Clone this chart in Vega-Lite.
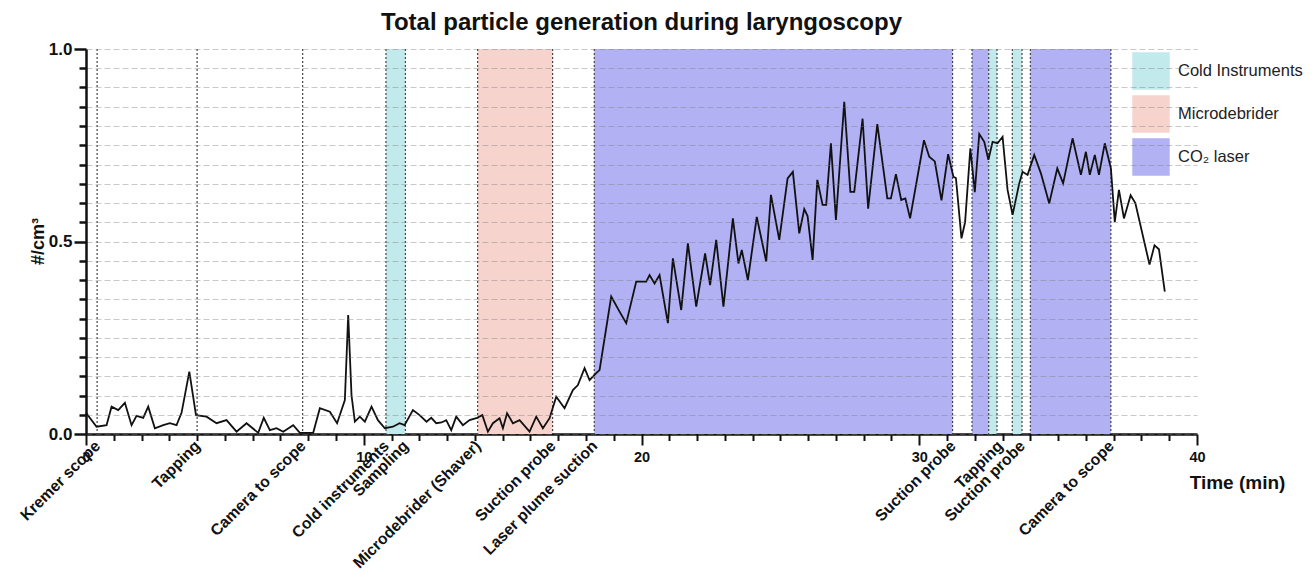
{
  "$schema": "https://vega.github.io/schema/vega-lite/v6.json",
  "width": 1111,
  "height": 385,
  "autosize": {"type": "none"},
  "padding": {"left": 86, "top": 49, "right": 119, "bottom": 139},
  "background": "white",
  "title": {"text": "Total particle generation during laryngoscopy", "font": "Liberation Sans", "fontSize": 24, "fontWeight": "bold", "color": "#111", "anchor": "middle", "frame": "group", "offset": 5},
  "config": {"view": {"stroke": null}, "font": "Liberation Sans"},
  "datasets": {
    "bands": [
      {"start": 10.8, "end": 11.5, "type": "Cold Instruments"},
      {"start": 14.1, "end": 16.8, "type": "Microdebrider"},
      {"start": 18.3, "end": 31.2, "type": "CO₂ laser"},
      {"start": 31.9, "end": 32.5, "type": "CO₂ laser"},
      {"start": 32.5, "end": 32.8, "type": "Cold Instruments"},
      {"start": 33.35, "end": 33.7, "type": "Cold Instruments"},
      {"start": 34.0, "end": 36.9, "type": "CO₂ laser"}
    ],
    "lines": [
      {"t": 0.4}, {"t": 4.0}, {"t": 7.8}, {"t": 10.8}, {"t": 11.5}, {"t": 14.1}, {"t": 16.8}, {"t": 18.3},
      {"t": 31.2}, {"t": 31.9}, {"t": 32.5}, {"t": 32.8}, {"t": 33.35}, {"t": 33.7}, {"t": 34.0}, {"t": 36.9}
    ],
    "series": [
      {"t": 0.00, "v": 0.055}, {"t": 0.38, "v": 0.019}, {"t": 0.74, "v": 0.023}, {"t": 0.92, "v": 0.071},
      {"t": 1.16, "v": 0.062}, {"t": 1.40, "v": 0.081}, {"t": 1.64, "v": 0.023}, {"t": 1.82, "v": 0.047},
      {"t": 2.06, "v": 0.042}, {"t": 2.24, "v": 0.071}, {"t": 2.48, "v": 0.015}, {"t": 2.78, "v": 0.023},
      {"t": 3.02, "v": 0.028}, {"t": 3.26, "v": 0.023}, {"t": 3.44, "v": 0.055}, {"t": 3.72, "v": 0.162},
      {"t": 3.96, "v": 0.049}, {"t": 4.34, "v": 0.045}, {"t": 4.70, "v": 0.028}, {"t": 5.06, "v": 0.036},
      {"t": 5.42, "v": 0.006}, {"t": 5.78, "v": 0.028}, {"t": 6.20, "v": 0.003}, {"t": 6.40, "v": 0.042},
      {"t": 6.62, "v": 0.010}, {"t": 6.86, "v": 0.015}, {"t": 7.10, "v": 0.006}, {"t": 7.46, "v": 0.023},
      {"t": 7.70, "v": 0.003}, {"t": 8.18, "v": 0.003}, {"t": 8.42, "v": 0.067}, {"t": 8.78, "v": 0.058},
      {"t": 9.04, "v": 0.028}, {"t": 9.32, "v": 0.088}, {"t": 9.44, "v": 0.309}, {"t": 9.56, "v": 0.100},
      {"t": 9.68, "v": 0.032}, {"t": 9.86, "v": 0.045}, {"t": 10.04, "v": 0.032}, {"t": 10.28, "v": 0.071},
      {"t": 10.51, "v": 0.036}, {"t": 10.76, "v": 0.015}, {"t": 11.05, "v": 0.019}, {"t": 11.29, "v": 0.028},
      {"t": 11.47, "v": 0.023}, {"t": 11.77, "v": 0.062}, {"t": 12.01, "v": 0.049}, {"t": 12.26, "v": 0.032},
      {"t": 12.43, "v": 0.042}, {"t": 12.61, "v": 0.028}, {"t": 12.80, "v": 0.030}, {"t": 12.97, "v": 0.036},
      {"t": 13.15, "v": 0.010}, {"t": 13.33, "v": 0.045}, {"t": 13.57, "v": 0.023}, {"t": 13.81, "v": 0.036},
      {"t": 14.05, "v": 0.041}, {"t": 14.27, "v": 0.049}, {"t": 14.47, "v": 0.006}, {"t": 14.65, "v": 0.028},
      {"t": 14.89, "v": 0.041}, {"t": 15.01, "v": 0.015}, {"t": 15.16, "v": 0.054}, {"t": 15.37, "v": 0.028},
      {"t": 15.61, "v": 0.036}, {"t": 15.97, "v": 0.006}, {"t": 16.21, "v": 0.045}, {"t": 16.45, "v": 0.015},
      {"t": 16.69, "v": 0.041}, {"t": 16.93, "v": 0.097}, {"t": 17.23, "v": 0.067}, {"t": 17.53, "v": 0.114},
      {"t": 17.71, "v": 0.127}, {"t": 17.95, "v": 0.171}, {"t": 18.13, "v": 0.140}, {"t": 18.37, "v": 0.158},
      {"t": 18.49, "v": 0.166}, {"t": 18.91, "v": 0.357}, {"t": 19.21, "v": 0.318}, {"t": 19.45, "v": 0.288},
      {"t": 19.81, "v": 0.396}, {"t": 20.17, "v": 0.396}, {"t": 20.29, "v": 0.413}, {"t": 20.47, "v": 0.391},
      {"t": 20.65, "v": 0.413}, {"t": 20.95, "v": 0.288}, {"t": 21.13, "v": 0.456}, {"t": 21.43, "v": 0.322},
      {"t": 21.67, "v": 0.495}, {"t": 21.97, "v": 0.331}, {"t": 22.29, "v": 0.469}, {"t": 22.47, "v": 0.387},
      {"t": 22.69, "v": 0.504}, {"t": 22.95, "v": 0.331}, {"t": 23.29, "v": 0.560}, {"t": 23.49, "v": 0.443},
      {"t": 23.61, "v": 0.478}, {"t": 23.83, "v": 0.400}, {"t": 24.15, "v": 0.564}, {"t": 24.49, "v": 0.448},
      {"t": 24.66, "v": 0.621}, {"t": 24.96, "v": 0.504}, {"t": 25.26, "v": 0.664}, {"t": 25.45, "v": 0.681},
      {"t": 25.68, "v": 0.521}, {"t": 25.86, "v": 0.584}, {"t": 25.98, "v": 0.566}, {"t": 26.16, "v": 0.452},
      {"t": 26.33, "v": 0.660}, {"t": 26.52, "v": 0.595}, {"t": 26.65, "v": 0.595}, {"t": 26.82, "v": 0.755},
      {"t": 27.00, "v": 0.556}, {"t": 27.30, "v": 0.863}, {"t": 27.52, "v": 0.629}, {"t": 27.66, "v": 0.629},
      {"t": 27.96, "v": 0.819}, {"t": 28.16, "v": 0.585}, {"t": 28.49, "v": 0.805}, {"t": 28.85, "v": 0.612},
      {"t": 28.98, "v": 0.612}, {"t": 29.16, "v": 0.675}, {"t": 29.35, "v": 0.608}, {"t": 29.50, "v": 0.612},
      {"t": 29.67, "v": 0.560}, {"t": 30.17, "v": 0.763}, {"t": 30.36, "v": 0.720}, {"t": 30.56, "v": 0.708},
      {"t": 30.80, "v": 0.607}, {"t": 31.04, "v": 0.727}, {"t": 31.23, "v": 0.668}, {"t": 31.32, "v": 0.665},
      {"t": 31.52, "v": 0.508}, {"t": 31.65, "v": 0.550}, {"t": 31.84, "v": 0.742}, {"t": 32.00, "v": 0.628},
      {"t": 32.16, "v": 0.779}, {"t": 32.34, "v": 0.759}, {"t": 32.49, "v": 0.712}, {"t": 32.64, "v": 0.759},
      {"t": 32.82, "v": 0.755}, {"t": 33.00, "v": 0.772}, {"t": 33.18, "v": 0.634}, {"t": 33.36, "v": 0.569},
      {"t": 33.60, "v": 0.651}, {"t": 33.72, "v": 0.681}, {"t": 33.90, "v": 0.673}, {"t": 34.14, "v": 0.725},
      {"t": 34.38, "v": 0.677}, {"t": 34.68, "v": 0.599}, {"t": 34.97, "v": 0.690}, {"t": 35.18, "v": 0.651},
      {"t": 35.52, "v": 0.768}, {"t": 35.82, "v": 0.673}, {"t": 36.00, "v": 0.733}, {"t": 36.14, "v": 0.673},
      {"t": 36.32, "v": 0.725}, {"t": 36.47, "v": 0.673}, {"t": 36.68, "v": 0.755}, {"t": 36.90, "v": 0.690},
      {"t": 37.04, "v": 0.551}, {"t": 37.19, "v": 0.634}, {"t": 37.37, "v": 0.560}, {"t": 37.61, "v": 0.620},
      {"t": 37.78, "v": 0.600}, {"t": 38.29, "v": 0.440}, {"t": 38.47, "v": 0.490}, {"t": 38.63, "v": 0.480},
      {"t": 38.84, "v": 0.370}
    ]
  },
  "resolve": {"axis": {"x": "independent"}},
  "layer": [
    {
      "data": {"name": "bands"},
      "mark": {"type": "rect"},
      "encoding": {
        "x": {
          "field": "start", "type": "quantitative",
          "scale": {"domain": [0, 40], "nice": false, "zero": false},
          "axis": {
            "orient": "bottom",
            "values": [0,1,2,3,4,5,6,7,8,9,10,11,12,13,14,15,16,17,18,19,20,21,22,23,24,25,26,27,28,29,30,31,32,33,34,35,36,37,38,39,40],
            "labelExpr": "datum.value % 10 === 0 ? format(datum.value, 'd') : ''",
            "grid": false,
            "domainColor": "#111", "domainWidth": 2.5,
            "tickColor": "#111", "tickWidth": 2,
            "tickSize": {"condition": {"test": "datum.value % 10 === 0", "value": 11}, "value": 6.5},
            "labelFont": "Liberation Sans", "labelFontSize": 14.5, "labelFontWeight": "bold", "labelColor": "#111",
            "labelPadding": 5, "labelFlush": false, "labelOverlap": false, "labelAngle": 0,
            "title": "Time (min)", "titleFont": "Liberation Sans", "titleFontSize": 19, "titleFontWeight": "bold", "titleColor": "#111",
            "titleX": 1151, "titleY": 48, "titleAlign": "center", "titleBaseline": "middle"
          }
        },
        "x2": {"field": "end"},
        "color": {
          "field": "type", "type": "nominal",
          "scale": {"domain": ["Cold Instruments", "Microdebrider", "CO₂ laser"], "range": ["#c2e9ec", "#f6d4cd", "#b1b1f4"]},
          "legend": {
            "orient": "none", "legendX": 1046, "legendY": 3, "title": null,
            "symbolType": "square", "symbolSize": 1400, "symbolStrokeWidth": 0, "symbolOpacity": 1,
            "labelFont": "Liberation Sans", "labelFontSize": 16.5, "labelColor": "#222", "labelOffset": 8,
            "labelLimit": 300,
            "rowPadding": 5, "padding": 0
          }
        }
      }
    },
    {
      "data": {"name": "lines"},
      "mark": {"type": "rule", "strokeDash": [2, 2], "color": "#444", "strokeWidth": 1.2},
      "encoding": {
        "x": {
          "field": "t", "type": "quantitative",
          "scale": {"domain": [0, 40], "nice": false, "zero": false},
          "axis": {
            "orient": "bottom",
            "values": [0.4, 4, 7.8, 10.8, 11.5, 14.1, 16.8, 18.3, 31.2, 32.9, 33.7, 36.9],
            "labelExpr": "datum.value == 0.4 ? 'Kremer scope' : datum.value == 4 ? 'Tapping' : datum.value == 7.8 ? 'Camera to scope' : datum.value == 10.8 ? 'Cold instruments' : datum.value == 11.5 ? 'Sampling' : datum.value == 14.1 ? 'Microdebrider (Shaver)' : datum.value == 16.8 ? 'Suction probe' : datum.value == 18.3 ? 'Laser plume suction' : datum.value == 31.2 ? 'Suction probe' : datum.value == 32.9 ? 'Tapping' : datum.value == 33.7 ? 'Suction probe' : 'Camera to scope'",
            "labelAngle": -45, "labelAlign": "right", "labelBaseline": "middle",
            "labelFont": "Liberation Sans", "labelFontSize": 15.8, "labelFontWeight": "bold", "labelColor": "#111",
            "labelPadding": 9, "labelOverlap": false, "labelFlush": false, "labelBound": false, "labelLimit": 300,
            "domain": false, "ticks": false, "grid": false, "title": null
          }
        }
      }
    },
    {
      "data": {"name": "series"},
      "mark": {"type": "line", "color": "#111", "strokeWidth": 1.8},
      "encoding": {
        "x": {"field": "t", "type": "quantitative", "scale": {"domain": [0, 40], "nice": false, "zero": false}, "axis": null},
        "y": {
          "field": "v", "type": "quantitative",
          "scale": {"domain": [0, 1], "nice": false},
          "axis": {
            "values": [0, 0.05, 0.1, 0.15, 0.2, 0.25, 0.3, 0.35, 0.4, 0.45, 0.5, 0.55, 0.6, 0.65, 0.7, 0.75, 0.8, 0.85, 0.9, 0.95, 1],
            "labelExpr": "(datum.value == 0 || datum.value == 0.5 || datum.value == 1) ? format(datum.value, '.1f') : ''",
            "grid": true, "gridDash": [6, 3], "gridColor": "#777", "gridOpacity": 0.4, "gridWidth": 1,
            "zindex": 1,
            "domainColor": "#111", "domainWidth": 2.5,
            "tickColor": "#111", "tickWidth": 2.5,
            "tickSize": {"condition": {"test": "datum.value == 0 || datum.value == 0.5 || datum.value == 1", "value": 12}, "value": 7},
            "labelFont": "Liberation Sans", "labelFontSize": 17, "labelFontWeight": "bold", "labelColor": "#111",
            "labelPadding": 2, "labelOverlap": false, "labelFlush": false,
            "title": "#/cm³", "titleFont": "Liberation Sans", "titleFontSize": 18, "titleFontWeight": "bold", "titleColor": "#111",
            "titleX": -48, "titleY": 192, "titleAngle": 270, "titleAlign": "center", "titleBaseline": "middle"
          }
        }
      }
    }
  ]
}
